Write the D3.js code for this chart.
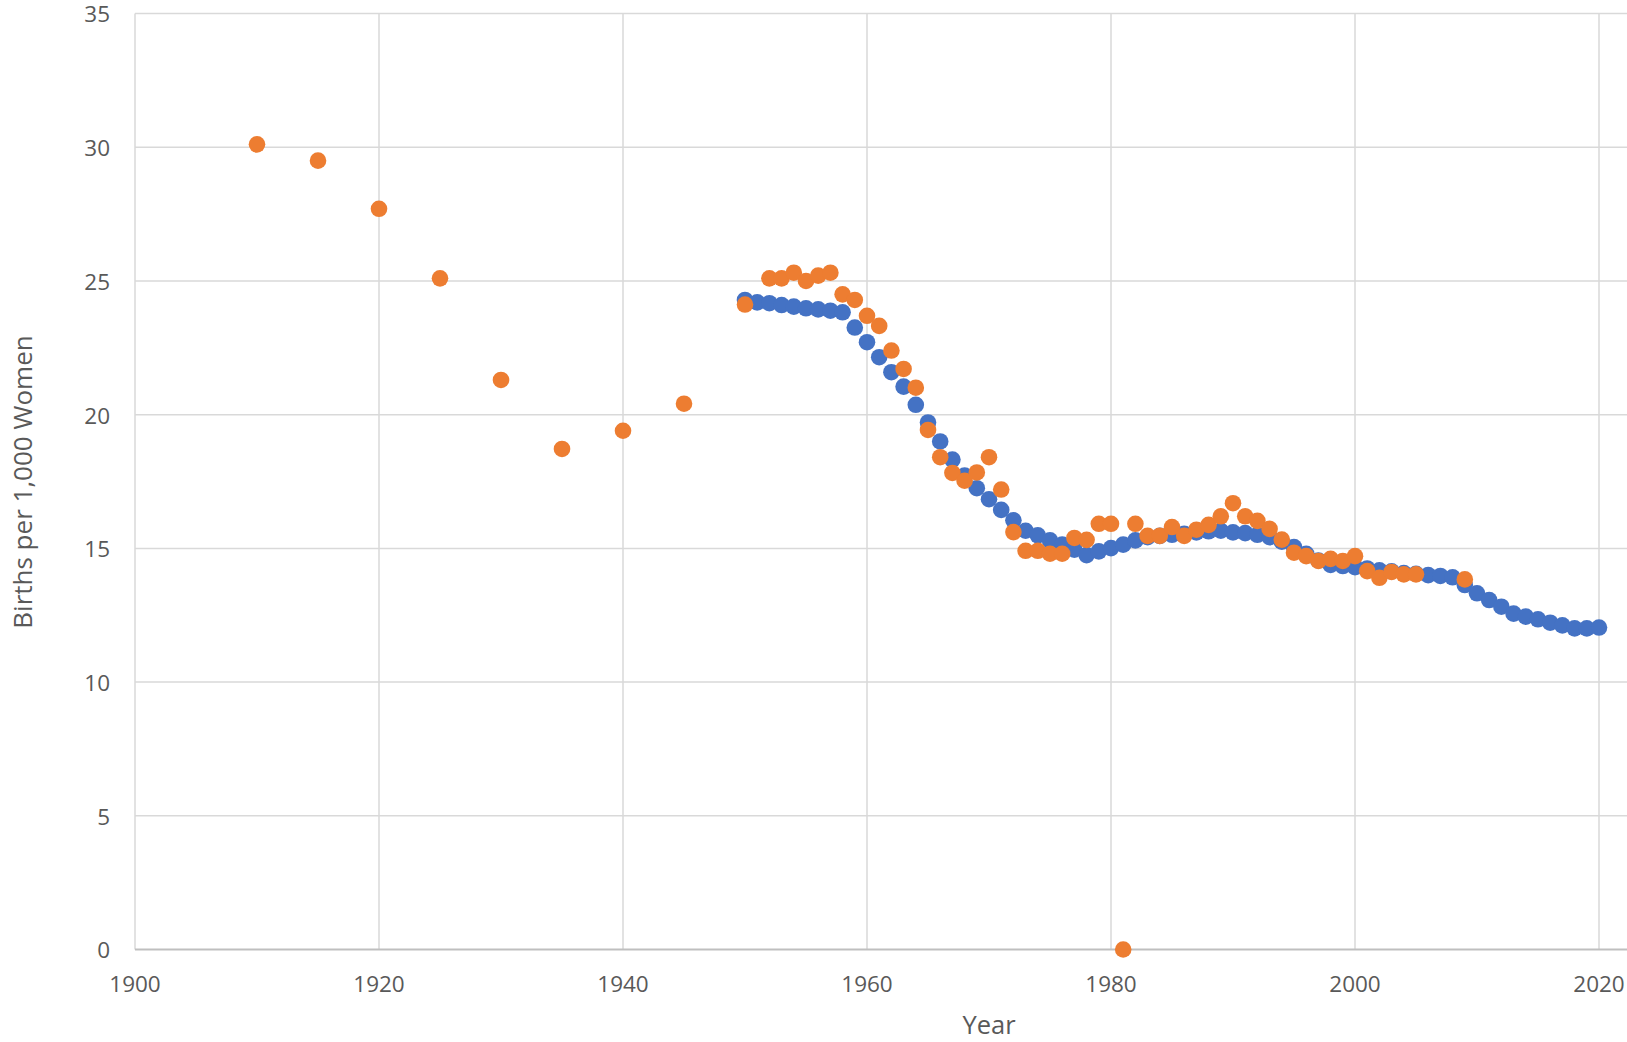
<!DOCTYPE html>
<html lang="en">
<head>
  <meta charset="UTF-8">
  <title>Births per 1,000 Women</title>
  <style>
    body { margin: 0; background: #fff; }
    svg { display: block; }
    .tick-label { fill: #595959; font-family: "Open Sans", sans-serif; font-size: 22.5px; }
    .axis-title { fill: #595959; font-family: "Open Sans", sans-serif; font-size: 26px; }
  </style>
</head>
<body>
  <svg id="chart" width="1627" height="1042"></svg>
  <script src="https://d3js.org/d3.v7.min.js"></script>
  <script>
    // series 1 (blue): annual 1950-2020
    const blueYears = d3.range(1950, 2021);
    const blueValues = [
      24.29, 24.20, 24.17, 24.10, 24.04, 23.98, 23.94, 23.89, 23.83, 23.26,
      22.71, 22.15, 21.59, 21.05, 20.37, 19.71, 19.00, 18.32, 17.72, 17.25,
      16.84, 16.44, 16.05, 15.66, 15.49, 15.30, 15.14, 14.95, 14.75, 14.89,
      15.01, 15.14, 15.30, 15.42, 15.47, 15.51, 15.55, 15.60, 15.64, 15.66,
      15.60, 15.57, 15.51, 15.42, 15.25, 15.05, 14.80, 14.55, 14.38, 14.34,
      14.30, 14.25, 14.18, 14.14, 14.08, 14.05, 14.00, 13.97, 13.92, 13.63,
      13.32, 13.07, 12.82, 12.56, 12.45, 12.35, 12.22, 12.12, 12.01, 12.01,
      12.04
    ];

    // series 2 (orange)
    const orangeYears = [
      1910, 1915, 1920, 1925, 1930, 1935, 1940, 1945,
      1950, 1952, 1953, 1954, 1955, 1956, 1957, 1958, 1959,
      1960, 1961, 1962, 1963, 1964, 1965, 1966, 1967, 1968, 1969,
      1970, 1971, 1972, 1973, 1974, 1975, 1976, 1977, 1978, 1979,
      1980, 1981, 1982, 1983, 1984, 1985, 1986, 1987, 1988, 1989,
      1990, 1991, 1992, 1993, 1994, 1995, 1996, 1997, 1998, 1999,
      2000, 2001, 2002, 2003, 2004, 2005, 2009
    ];
    const orangeValues = [
      30.11, 29.50, 27.70, 25.10, 21.30, 18.72, 19.40, 20.41,
      24.12, 25.10, 25.10, 25.31, 25.00, 25.20, 25.31, 24.50, 24.29,
      23.70, 23.32, 22.40, 21.71, 21.01, 19.43, 18.41, 17.82, 17.53, 17.84,
      18.41, 17.20, 15.61, 14.91, 14.91, 14.80, 14.80, 15.39, 15.32, 15.92,
      15.92, 0, 15.92, 15.47, 15.47, 15.80, 15.47, 15.70, 15.88, 16.20,
      16.69, 16.20, 16.03, 15.73, 15.33, 14.84, 14.71, 14.53, 14.61, 14.53,
      14.71, 14.15, 13.90, 14.12, 14.03, 14.03, 13.84
    ];

    const xTicks = [1900, 1920, 1940, 1960, 1980, 2000, 2020];
    const yTicks = [0, 5, 10, 15, 20, 25, 30, 35];

    const plotLeft = 135, plotRight = 1627, plotTop = 13.6, plotBottom = 949.5;

    const x = d3.scaleLinear().domain([1900, 2020]).range([plotLeft, 1599]);
    const y = d3.scaleLinear().domain([0, 35]).range([plotBottom, plotTop]);

    const svg = d3.select("#chart");

    // gridlines
    const grid = svg.append("g");
    grid.selectAll(".hgrid")
      .data(yTicks.filter(d => d > 0))
      .join("line")
      .attr("x1", plotLeft).attr("x2", plotRight)
      .attr("y1", d => y(d)).attr("y2", d => y(d))
      .attr("stroke", "#d9d9d9").attr("stroke-width", 1.5);
    grid.selectAll(".vgrid")
      .data(xTicks)
      .join("line")
      .attr("x1", d => x(d)).attr("x2", d => x(d))
      .attr("y1", plotTop).attr("y2", plotBottom)
      .attr("stroke", "#d9d9d9").attr("stroke-width", 1.5);

    // x axis line
    svg.append("line")
      .attr("x1", plotLeft).attr("x2", plotRight)
      .attr("y1", y(0)).attr("y2", y(0))
      .attr("stroke", "#bfbfbf").attr("stroke-width", 2);

    // tick labels
    svg.append("g").selectAll("text")
      .data(yTicks)
      .join("text")
      .attr("class", "tick-label")
      .attr("x", 110)
      .attr("y", d => y(d) + 1)
      .attr("dy", "0.35em")
      .attr("text-anchor", "end")
      .text(d => d);

    svg.append("g").selectAll("text")
      .data(xTicks)
      .join("text")
      .attr("class", "tick-label")
      .attr("x", d => x(d))
      .attr("y", 984)
      .attr("dy", "0.35em")
      .attr("text-anchor", "middle")
      .text(d => d);

    // axis titles
    svg.append("text")
      .attr("class", "axis-title")
      .style("font-size", "25.5px")
      .attr("x", 989).attr("y", 1025)
      .attr("dy", "0.35em")
      .attr("text-anchor", "middle")
      .text("Year");

    svg.append("text")
      .attr("class", "axis-title")
      .attr("transform", "translate(23,482) rotate(-90)")
      .attr("dy", "0.35em")
      .attr("text-anchor", "middle")
      .text("Births per 1,000 Women");

    // points
    const r = 8.3;
    svg.append("g").selectAll("circle")
      .data(blueYears.map((yr, i) => [yr, blueValues[i]]))
      .join("circle")
      .attr("cx", d => x(d[0]))
      .attr("cy", d => y(d[1]))
      .attr("r", r)
      .attr("fill", "#4472c4");

    svg.append("g").selectAll("circle")
      .data(orangeYears.map((yr, i) => [yr, orangeValues[i]]))
      .join("circle")
      .attr("cx", d => x(d[0]))
      .attr("cy", d => y(d[1]))
      .attr("r", r)
      .attr("fill", "#ed7d31");
  </script>
</body>
</html>
